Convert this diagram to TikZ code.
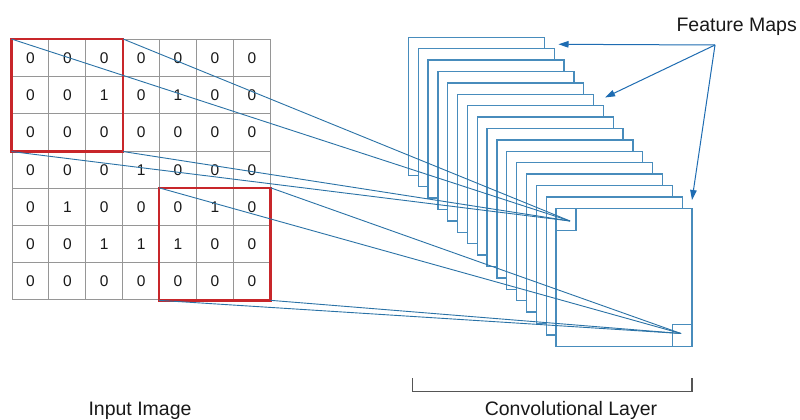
\documentclass[tikz,border=0pt]{standalone}
\usepackage{fontspec}
\setmainfont{Liberation Sans}
\usetikzlibrary{arrows.meta}
\definecolor{gridgray}{RGB}{150,150,150}
\definecolor{redbox}{RGB}{200,38,42}
\definecolor{fmblue}{RGB}{72,140,188}
\definecolor{lnblue}{RGB}{42,114,166}
\definecolor{arblue}{RGB}{30,108,178}
\definecolor{txt}{RGB}{25,25,25}
\definecolor{brk}{RGB}{85,85,85}
\tikzset{
  cell/.style={draw=gridgray, line width=0.9pt, minimum width=36.9pt, minimum height=37.2pt, inner sep=0pt, text=txt, font=\fontsize{15.5}{18}\selectfont},
  redsel/.style={draw=redbox, line width=2.6pt},
  fmap/.style={draw=fmblue, line width=1.3pt, fill=white, minimum width=136pt, minimum height=138pt, inner sep=0pt},
  kern/.style={draw=fmblue, line width=1.1pt, minimum width=20pt, minimum height=22pt, inner sep=0pt},
  conn/.style={draw=lnblue, line width=0.9pt},
  fmarrow/.style={draw=arblue, line width=1pt, -{Triangle[length=10pt,width=6.5pt]}},
  lbl/.style={text=txt, inner sep=0pt, font=\fontsize{19.5}{23}\selectfont},
  bracket/.style={draw=brk, line width=1.2pt}
}
\begin{document}
\begin{tikzpicture}[x=1pt,y=-1pt]
\useasboundingbox (0,0) rectangle (800,420);
\fill[white] (0,0) rectangle (800,420);
% input grid
\foreach \r/\row in {1/{0,0,0,0,0,0,0},2/{0,0,1,0,1,0,0},3/{0,0,0,0,0,0,0},4/{0,0,0,1,0,0,0},5/{0,1,0,0,0,1,0},6/{0,0,1,1,1,0,0},7/{0,0,0,0,0,0,0}}{
  \foreach \v [count=\c] in \row {
    \node[cell] (c-\r-\c) at ({12+36.9*(\c-0.5)},{39.5+37.2*(\r-0.5)}) {\v};
  }
}
\draw[redsel] (c-1-1.north west) rectangle (c-3-3.south east);
\draw[redsel] (c-5-5.north west) rectangle (c-7-7.south east);
% feature maps
\foreach \i in {0,...,15}{
  \node[fmap] (fm\i) at ({408.3+9.85*\i+68},{37.3+11.4*\i+69}) {};
}
\node[kern, anchor=north west] (k1) at (fm15.north west) {};
\node[kern, anchor=south east] (k2) at (fm15.south east) {};
\coordinate (p1) at (570,221);
\coordinate (p2) at (681,333.5);
% connectors
\draw[conn] (c-1-1.north west) -- (p1);
\draw[conn] (c-1-3.north east) -- (p1);
\draw[conn] (c-3-1.south west) -- (p1);
\draw[conn] (c-3-3.south east) -- (p1);
\draw[conn] (c-5-5.north west) -- (p2);
\draw[conn] (c-5-7.north east) -- (p2);
\draw[conn] (c-7-5.south west) -- (p2);
\draw[conn] (c-7-7.south east) -- (p2);
% feature maps label
\node[lbl, anchor=base] (fmlabel) at (736.7,32) {Feature Maps};
\coordinate (fmsrc) at (715,45);
\coordinate (t1) at (558.5,44.3);
\coordinate (t2) at (605,97.5);
\coordinate (t3) at (692,200);
\draw[fmarrow] (fmsrc) -- (t1);
\draw[fmarrow] (fmsrc) -- (t2);
\draw[fmarrow] (fmsrc) -- (t3);
% bracket
\coordinate (b1) at (412.7,378);
\coordinate (b2) at (412.7,391.7);
\coordinate (b3) at (692,391.7);
\coordinate (b4) at (692,378);
\draw[bracket] (b1) -- (b2) -- (b3) -- (b4);
% captions
\node[lbl, anchor=base] (inlabel) at (140,415) {Input Image};
\node[lbl, anchor=base] (convlabel) at (571,415) {Convolutional Layer};
\end{tikzpicture}
\end{document}
